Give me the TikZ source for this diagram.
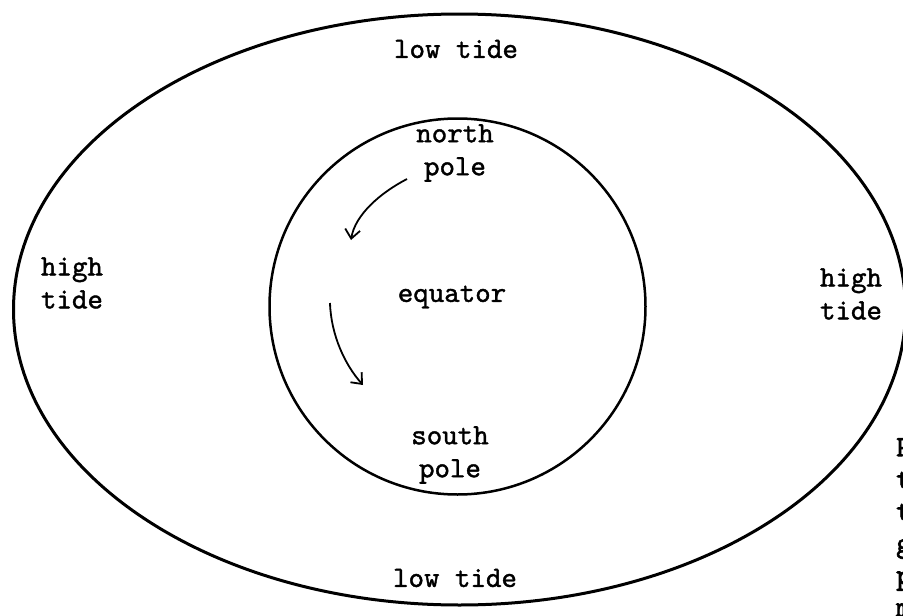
\documentclass[tikz,border=0pt]{standalone}
\usepackage{fontspec}
\newfontfamily\tw[FakeBold=1.3]{lmmono10-regular.otf}
\newfontfamily\twb[FakeBold=2.2]{lmmono10-regular.otf}
\usetikzlibrary{arrows.meta}
\begin{document}
\begin{tikzpicture}[x=1pt,y=-1pt,
  lbl/.style={font=\tw\fontsize{29.5}{33}\selectfont, align=center, inner sep=0pt},
  side/.style={font=\twb\fontsize{29.5}{32}\selectfont, align=left, inner sep=0pt, anchor=north west},
  rim/.style={line width=3pt},
  globe/.style={line width=2.5pt},
  turn/.style={line width=1.8pt, -{Straight Barb[length=9pt,width=15pt,line width=1.8pt]}}]
\useasboundingbox (0,0) rectangle (903,616);
\draw[rim] (459.5,309.5) ellipse [x radius=446, y radius=295.5];
\draw[globe] (457.5,306.5) circle [radius=188];

\node[lbl] (lowtop) at (456,49) {low tide};
\node[lbl] (north) at (455,153) {north\\pole};
\node[lbl] (equator) at (452,297) {equator};
\node[lbl] (south) at (450,455) {south\\pole};
\node[lbl] (highleft) at (72,283) {high\\tide};
\node[lbl] (highright) at (851,294) {high\\tide};
\node[lbl] (lowbottom) at (455,578) {low tide};
\node[side] (fringe) at (896,438) {P\\t\\t\\g\\p\\m};

\coordinate (a1s) at (407,179);
\coordinate (a1e) at (351,240);
\coordinate (a2s) at (330,303);
\coordinate (a2e) at (363,385);
\draw[turn] (a1s) .. controls (380,193) and (355,215) .. (a1e);
\draw[turn] (a2s) .. controls (331,335) and (345,365) .. (a2e);
\end{tikzpicture}
\end{document}
